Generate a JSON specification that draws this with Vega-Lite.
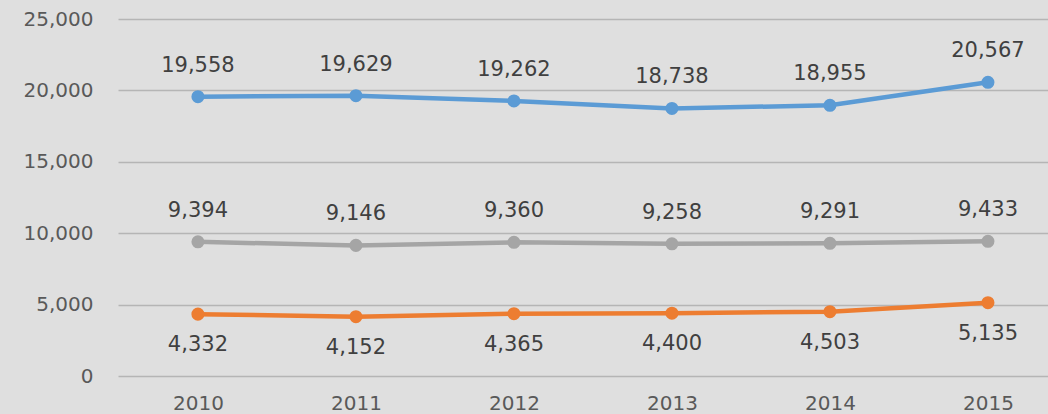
{
  "$schema": "https://vega.github.io/schema/vega-lite/v6.json",
  "width": 930,
  "height": 357,
  "autosize": {"type": "none"},
  "padding": {"left": 118, "top": 19, "right": 0, "bottom": 38},
  "background": "#dfdfdf",
  "config": {
    "view": {"stroke": null},
    "font": "DejaVu Sans",
    "axis": {"labelFont": "DejaVu Sans", "labelFontSize": 20, "labelColor": "#595959"}
  },
  "data": {
    "values": [
      {"year": "2010", "series": "A", "value": 19558},
      {"year": "2011", "series": "A", "value": 19629},
      {"year": "2012", "series": "A", "value": 19262},
      {"year": "2013", "series": "A", "value": 18738},
      {"year": "2014", "series": "A", "value": 18955},
      {"year": "2015", "series": "A", "value": 20567},
      {"year": "2010", "series": "B", "value": 9394},
      {"year": "2011", "series": "B", "value": 9146},
      {"year": "2012", "series": "B", "value": 9360},
      {"year": "2013", "series": "B", "value": 9258},
      {"year": "2014", "series": "B", "value": 9291},
      {"year": "2015", "series": "B", "value": 9433},
      {"year": "2010", "series": "C", "value": 4332},
      {"year": "2011", "series": "C", "value": 4152},
      {"year": "2012", "series": "C", "value": 4365},
      {"year": "2013", "series": "C", "value": 4400},
      {"year": "2014", "series": "C", "value": 4503},
      {"year": "2015", "series": "C", "value": 5135}
    ]
  },
  "encoding": {
    "x": {
      "field": "year", "type": "ordinal",
      "scale": {"type": "point", "padding": 0.443, "align": 0.571},
      "axis": {"title": null, "labelAngle": 0, "ticks": false, "domain": false, "labelPadding": 17, "grid": false}
    },
    "y": {
      "field": "value", "type": "quantitative",
      "scale": {"domain": [0, 25000]},
      "axis": {"title": null, "values": [0, 5000, 10000, 15000, 20000, 25000], "format": ",d", "ticks": false, "domain": false, "labelPadding": 25, "gridColor": "#b5b5b5", "gridWidth": 1.5}
    },
    "color": {
      "field": "series", "type": "nominal",
      "scale": {"domain": ["A", "B", "C"], "range": ["#5b9bd5", "#a5a5a5", "#ed7d31"]},
      "legend": null
    }
  },
  "layer": [
    {"mark": {"type": "line", "strokeWidth": 4.5}},
    {"mark": {"type": "point", "filled": true, "opacity": 1, "size": 170}},
    {
      "transform": [{"filter": "datum.series !== 'C'"}],
      "mark": {"type": "text", "dy": -31, "fontSize": 21, "color": "#404040"},
      "encoding": {"text": {"field": "value", "type": "quantitative", "format": ",d"}, "color": {"value": "#404040"}}
    },
    {
      "transform": [{"filter": "datum.series === 'C'"}],
      "mark": {"type": "text", "dy": 31, "fontSize": 21, "color": "#404040"},
      "encoding": {"text": {"field": "value", "type": "quantitative", "format": ",d"}, "color": {"value": "#404040"}}
    }
  ]
}
